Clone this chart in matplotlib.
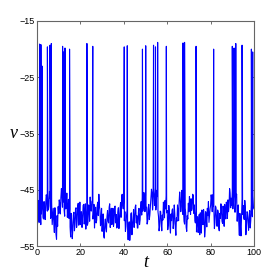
import numpy as np
import matplotlib.pyplot as plt

# ==========================================================
# DONNEES
# ==========================================================

dt = 0.5
# valeurs aux instants t = 0, 0.5, 1, ...
v_base = [
    -49.6, -48.2, -50.8, -47.9, -49.3, -46.8, -50.2, -48.4, -47.5, -46.2,
    -45.8, -47.9, -46.5, -49.8, -51.2, -48.3, -52.6, -50.1, -53.8, -51.5,
    -49.2, -47.6, -46.4, -45.9, -47.2, -48.6, -46.1, -47.8, -49.9, -46.7,
    -48.5, -53.4, -50.8, -52.1, -49.0, -51.3, -48.2, -50.6, -47.4, -49.8,
    -51.2, -48.9, -50.3, -47.6, -49.7, -52.0, -48.4, -50.8, -47.9, -46.3,
    -48.8, -46.9, -49.5, -51.8, -48.1, -50.4, -47.2, -45.8, -48.6, -50.9,
    -52.4, -49.3, -53.6, -50.2, -52.5, -48.7, -50.9, -47.5, -49.6, -51.2,
    -48.3, -50.7, -47.9, -49.4, -51.6, -48.2, -50.5, -47.3, -46.2, -47.8,
    -46.4, -48.9, -51.5, -48.6, -53.9, -50.7, -52.6, -49.1, -51.3, -48.5,
    -50.2, -47.7, -49.6, -51.8, -48.3, -50.4, -47.1, -46.3, -48.0, -46.8,
    -45.9, -48.2, -50.6, -47.6, -49.5, -46.8, -45.5, -47.4, -46.0, -45.4,
    -47.3, -46.2, -49.8, -51.6, -48.9, -52.3, -50.4, -48.1, -46.9, -46.1,
    -48.7, -51.3, -49.2, -52.7, -50.5, -48.4, -51.0, -49.3, -53.1, -50.6,
    -48.8, -47.2, -46.5, -47.9, -46.3, -48.5, -51.1, -49.0, -52.4, -50.2,
    -48.9, -47.5, -46.6, -48.3, -46.0, -47.7, -50.9, -52.5, -49.8, -51.7,
    -53.0, -50.4, -48.6, -51.2, -49.4, -52.1, -50.0, -48.3, -47.1, -49.6,
    -47.8, -46.7, -45.9, -48.5, -50.8, -48.2, -51.5, -49.0, -52.3, -50.1,
    -48.4, -51.0, -49.3, -47.6, -50.2, -48.0, -46.8, -47.9, -45.6, -46.5,
    -45.2, -46.8, -44.9, -47.3, -45.8, -48.5, -51.0, -49.2, -53.2, -46.6,
    -47.8, -50.3, -48.1, -51.6, -49.0, -52.2, -48.7, -50.5, -47.2, -46.1,
    -48.4,
]

# valeurs aux instants t = 0.25, 0.75, 1.25, ...
v_mid = [
    -51.0, -46.9, -48.7, -51.2, -47.4, -49.9, -47.1, -50.3, -45.9, -48.8,
    -48.6, -45.3, -50.1, -47.2, -49.7, -50.9, -48.2, -52.9, -49.6, -48.0,
    -46.8, -49.3, -44.8, -48.1, -45.9, -49.7, -48.4, -45.6, -48.0, -50.1,
    -51.6, -49.2, -53.7, -49.5, -52.3, -48.4, -51.7, -47.9, -51.3, -47.2,
    -49.0, -51.7, -47.8, -51.1, -47.5, -49.9, -51.3, -47.7, -50.6, -48.5,
    -47.1, -50.2, -47.6, -49.4, -50.9, -47.8, -49.6, -47.9, -51.4, -48.3,
    -50.6, -53.2, -51.0, -51.9, -49.8, -50.6, -48.1, -51.7, -48.3, -49.5,
    -51.5, -48.0, -50.9, -51.8, -49.0, -51.9, -48.6, -49.9, -45.8, -48.4,
    -50.5, -52.4, -49.6, -52.0, -51.5, -54.0, -49.3, -53.0, -50.2, -51.7,
    -48.1, -50.9, -51.8, -49.0, -51.2, -48.2, -49.5, -48.8, -45.5, -48.9,
    -47.9, -51.1, -48.2, -50.3, -48.0, -44.9, -48.6, -44.7, -47.8, -48.6,
    -45.1, -48.9, -52.3, -48.8, -50.9, -49.5, -47.2, -50.0, -48.4, -49.1,
    -52.1, -47.8, -51.4, -49.3, -48.6, -51.9, -47.7, -51.8, -50.0, -47.7,
    -50.5, -45.4, -48.9, -45.1, -49.4, -50.6, -48.3, -51.7, -49.6, -47.4,
    -46.2, -49.4, -48.7, -45.8, -49.2, -50.5, -48.8, -50.1, -52.6, -49.4,
    -49.1, -52.7, -50.7, -48.5, -53.4, -48.9, -51.6, -49.6, -50.8, -48.4,
    -45.9, -48.9, -48.0, -51.9, -47.9, -50.6, -48.6, -51.8, -49.2, -47.5,
    -50.6, -47.9, -51.5, -49.6, -47.2, -50.1, -48.9, -44.8, -48.2, -47.8,
    -48.4, -44.6, -49.0, -46.3, -50.6, -47.7, -53.1, -51.5, -49.6, -49.4,
    -49.9, -46.9, -53.0, -48.9, -50.8, -49.9, -51.8, -47.6, -49.8, -48.2,
]

spike_t = [1.2, 1.8, 2.3, 4.8, 6.0, 6.6, 11.8, 12.3, 12.9, 15.0,
           23.0, 25.7, 40.2, 41.6, 48.6, 50.1, 53.7, 54.6, 55.6, 59.6,
           67.3, 68.0, 73.3, 81.4, 90.0, 90.8, 91.6, 94.5, 98.8, 99.4]
spike_v = [-19.1, -19.2, -23.0, -19.6, -19.3, -19.0, -19.5, -20.5, -19.8, -20.0,
           -19.0, -19.5, -19.6, -19.4, -20.0, -19.4, -19.3, -19.6, -18.8, -19.5,
           -18.9, -18.8, -19.5, -20.0, -19.5, -19.8, -19.0, -19.3, -20.0, -20.5]

x_ticks = [0, 20, 40, 60, 80, 100]
y_ticks = [-55, -45, -35, -25, -15]

# ==========================================================
# SERIE COMPLETE
# ==========================================================

t_base = np.arange(len(v_base)) * dt
t_mid = np.arange(len(v_mid)) * dt + dt / 2
t_all = np.concatenate([t_base, t_mid, spike_t])
v_all = np.concatenate([v_base, v_mid, spike_v])
order = np.argsort(t_all, kind='stable')
t_all, v_all = t_all[order], v_all[order]

# ==========================================================
# FIGURE
# ==========================================================

fig = plt.figure(figsize=(2.77, 2.77), dpi=100)
ax = fig.add_axes([37 / 277, 31 / 277, 217 / 277, 225 / 277])

ax.plot(t_all, v_all, color='#0000ff', linewidth=0.8)

ax.set_xlim(0, 100)
ax.set_ylim(-55, -15)
ax.set_xticks(x_ticks)
ax.set_yticks(y_ticks)

ax.tick_params(direction='in', length=2.5, width=0.6, top=True, right=True,
               labelsize=6.5, pad=1.5, color='#555555')
for lab in ax.get_xticklabels() + ax.get_yticklabels():
    lab.set_family('Liberation Sans')
for s in ax.spines.values():
    s.set_color('#666666')
    s.set_linewidth(0.8)

ax.set_xlabel('t', fontsize=13, family='Liberation Serif', style='italic',
              labelpad=-2)
ax.set_ylabel('v', fontsize=13, family='Liberation Serif', style='italic',
              rotation=0, labelpad=4, va='center')

fig.savefig('out.png', dpi=100)
